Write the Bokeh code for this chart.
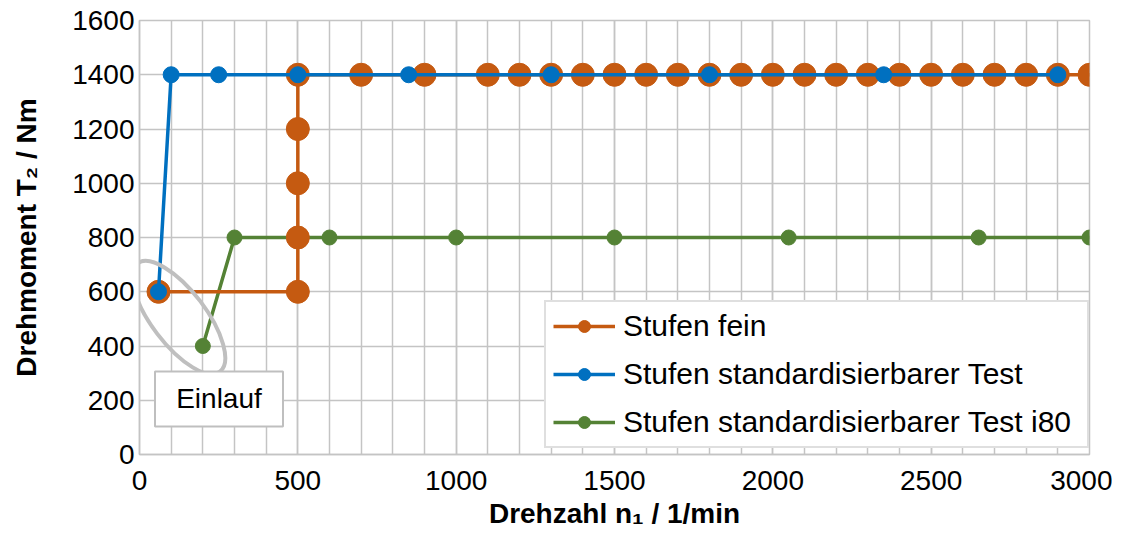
from bokeh.plotting import figure
from bokeh.models import Range1d, SingleIntervalTicker, Legend, LegendItem
from bokeh.core.properties import value
from bokeh.embed import file_html
from bokeh.resources import INLINE

# ---- data ----
fein_x = [60, 500, 500, 500, 500, 500, 700, 900, 1100, 1200, 1300, 1400, 1500, 1600,
          1700, 1800, 1900, 2000, 2100, 2200, 2300, 2400, 2500, 2600, 2700, 2800, 2900, 3000]
fein_y = [600, 600, 800, 1000, 1200, 1400, 1400, 1400, 1400, 1400, 1400, 1400, 1400, 1400,
          1400, 1400, 1400, 1400, 1400, 1400, 1400, 1400, 1400, 1400, 1400, 1400, 1400, 1400]
std_x = [60, 100, 250, 500, 850, 1300, 1800, 2350, 2900]
std_y = [600, 1400, 1400, 1400, 1400, 1400, 1400, 1400, 1400]
i80_x = [200, 300, 600, 1000, 1500, 2050, 2650, 3000]
i80_y = [400, 800, 800, 800, 800, 800, 800, 800]

series_names = ["Stufen fein", "Stufen standardisierbarer Test", "Stufen standardisierbarer Test i80"]
y_ticks = [0, 200, 400, 600, 800, 1000, 1200, 1400, 1600]
x_label = "Drehzahl n\u2081 / 1/min"
y_label = "Drehmoment T\u2082 / Nm"

# annotation: ellipse around run-in points and its label
einlauf_ellipse_x = [124]
einlauf_ellipse_y = [505]
einlauf_text = ["Einlauf"]
einlauf_x = [251]
einlauf_y = [205]

FONT = "Liberation Sans"
GRID = "#C4C4C4"
ORANGE = "#C55A11"
BLUE = "#0070C0"
GREEN = "#548235"

p = figure(width=1112, height=531, output_backend="svg", toolbar_location=None,
           x_range=Range1d(0, 3000), y_range=Range1d(0, 1600),
           min_border_left=139, min_border_right=23, min_border_top=20, min_border_bottom=77)
p.background_fill_color = "white"
p.border_fill_color = "white"
p.outline_line_color = GRID
p.outline_line_width = 1.5

p.xaxis.ticker = SingleIntervalTicker(interval=500, num_minor_ticks=5)
p.yaxis.ticker = y_ticks
p.xgrid.grid_line_color = GRID
p.xgrid.grid_line_width = 1.5
p.xgrid.minor_grid_line_color = GRID
p.xgrid.minor_grid_line_width = 1.5
p.ygrid.grid_line_color = GRID
p.ygrid.grid_line_width = 1.5

for ax in (p.xaxis, p.yaxis):
    ax.axis_line_color = GRID
    ax.axis_line_width = 1.5
    ax.major_tick_line_color = None
    ax.minor_tick_line_color = None
    ax.major_tick_out = 0
    ax.major_tick_in = 0
    ax.minor_tick_out = 0
    ax.minor_tick_in = 0
    ax.major_label_text_font = FONT
    ax.major_label_text_font_size = "28px"
    ax.major_label_text_color = "black"
    ax.axis_label_text_font = FONT
    ax.axis_label_text_font_size = "28px"
    ax.axis_label_text_font_style = "bold"
    ax.axis_label_text_color = "black"

p.xaxis.axis_label = x_label
p.yaxis.axis_label = y_label
p.xaxis.major_label_standoff = 16
p.xaxis.axis_label_standoff = 5
p.yaxis.major_label_standoff = 5
p.yaxis.axis_label_standoff = 27

# series (green first, then orange, then blue on top)
lg = p.line(i80_x, i80_y, line_color=GREEN, line_width=3.5)
sg = p.scatter(i80_x, i80_y, size=15, fill_color=GREEN, line_color=GREEN)
lo = p.line(fein_x, fein_y, line_color=ORANGE, line_width=3.5)
so = p.scatter(fein_x, fein_y, size=23, fill_color=ORANGE, line_color=ORANGE)
lb = p.line(std_x, std_y, line_color=BLUE, line_width=3.5)
sb = p.scatter(std_x, std_y, size=16, fill_color=BLUE, line_color=BLUE)

# annotation
p.ellipse(einlauf_ellipse_x, einlauf_ellipse_y, width=136, height=54,
          width_units="screen", height_units="screen", angle=-0.92,
          fill_color=None, line_color="#BFBFBF", line_width=4)
p.rect(einlauf_x, einlauf_y, width=128, height=55, width_units="screen", height_units="screen",
       fill_color="white", line_color="#BFBFBF", line_width=2)
p.text(einlauf_x, einlauf_y, text=einlauf_text, text_font=value(FONT), text_font_size="28px",
       text_align="center", text_baseline="middle", text_color="black")

legend = Legend(items=[
    LegendItem(label=series_names[0], renderers=[lo, so]),
    LegendItem(label=series_names[1], renderers=[lb, sb]),
    LegendItem(label=series_names[2], renderers=[lg, sg]),
], location=(405, 6))
legend.label_text_font = FONT
legend.label_text_font_size = "30px"
legend.label_text_color = "black"
legend.glyph_width = 62
legend.glyph_height = 30
legend.label_height = 30
legend.label_width = 457
legend.label_standoff = 8
legend.spacing = 14
legend.padding = 7
legend.margin = 0
legend.border_line_color = "#BFBFBF"
legend.border_line_width = 2
legend.background_fill_color = "white"
legend.background_fill_alpha = 1
p.add_layout(legend, "center")

open("out.html", "w").write(file_html(p, INLINE))
